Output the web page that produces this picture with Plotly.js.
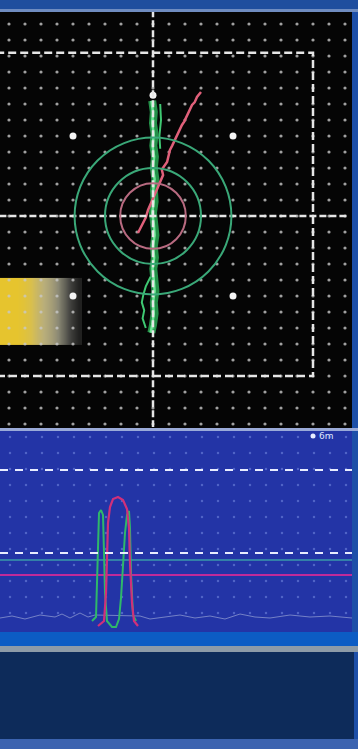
<!DOCTYPE html>
<html><head><meta charset="utf-8">
<script src="https://cdn.plot.ly/plotly-3.0.1.min.js"></script>
<style>html,body{margin:0;padding:0;background:#1d4fa8;}#chart{width:358px;height:749px;}</style>
</head><body><div id="chart"></div>
<script>
// ---------- top (impedance plane) data, in screen grid units ----------
const circleRadii = [2.05, 3.0, 4.9];
const circleColors = ['#b86a80', '#3aa878', '#3aa878'];
const bigDotX = [-5, 5, -5, 5, 0];
const bigDotY = [5, 5, -5, -5, 7.55];
const greenSigX = [-0.05, 0.05, 0.0, 0.1, 0.02, 0.12, 0.05, 0.15, 0.06, 0.1, 0.0, 0.1, 0.15, 0.05, 0.12, 0.02, 0.1, 0.15, 0.05, 0.1, 0.0, -0.1];
const greenSigY = [7.2, 6.5, 5.8, 5.1, 4.4, 3.7, 3.0, 2.3, 1.6, 0.9, 0.2, -0.5, -1.2, -1.9, -2.6, -3.3, -4.0, -4.7, -5.4, -6.1, -6.8, -7.3];
const greenBranchX = [0.45, 0.5, 0.4, 0.45, null, -0.15, -0.45, -0.6, -0.7, -0.55, -0.65, -0.45];
const greenBranchY = [7.0, 6.0, 5.0, 4.2, null, -3.8, -4.4, -4.9, -5.4, -5.9, -6.4, -7.0];
const pinkSigX = [-0.94, -0.75, -0.63, -0.45, -0.31, -0.06, 0.1, 0.31, 0.63, 0.55, 0.88, 1.06, 1.2, 1.44, 1.81, 1.95, 2.13, 2.44, 2.6, 2.75, 3.0];
const pinkSigY = [-1.06, -0.7, -0.38, -0.1, 0.38, 1.0, 1.3, 1.81, 2.56, 2.9, 3.38, 4.13, 4.4, 4.94, 5.69, 5.9, 6.31, 6.94, 7.1, 7.44, 7.75];
const gradientZ = [[1, 1, 1, 0.97, 0.92, 0.82, 0.74, 0.66, 0.55, 0.4, 0.22, 0.08],
                   [1, 1, 1, 0.97, 0.92, 0.82, 0.74, 0.66, 0.55, 0.4, 0.22, 0.08]];

// ---------- bottom (strip chart) data ----------
const baseX = [0, 12, 25, 40, 55, 62, 70, 80, 88, 95, 140, 150, 165, 180, 195, 210, 225, 240, 255, 270, 290, 310, 330, 352];
const baseY = [5, 7, 4, 8, 6, 9, 5, 10, 6, 8, 7, 4, 6, 8, 5, 7, 4, 9, 6, 5, 8, 6, 7, 5];
const magPulseX = [98, 104, 106, 107, 108, 110, 113, 118, 123, 127, 129, 130, 132, 134, 138];
const magPulseY = [-3, 2, 30, 70, 100, 116, 124, 126, 123, 114, 95, 60, 20, 2, -3];
const greenPulseX = [92, 96, 97, 98, 99, 101, 103, 104, 105, 107, 112, 116, 119, 121, 123, 125, 127, 129, 130, 131, 133, 136];
const greenPulseY = [2, 6, 40, 90, 110, 113, 108, 70, 30, 2, -4, -4, 4, 25, 60, 90, 108, 112, 95, 50, 8, 2];
const tealLineX = [0, 352];
const tealLineY = [63, 63];
const magLineX = [0, 352];
const magLineY = [48, 48];
const dashedLevels = [153, 70];
const rangeLabel = '6m';

// ---------- pixel geometry helpers ----------
const W = 358, H = 749;
const px = v => v / W, py = v => 1 - v / H;
const U = 16, CX = 153, CY = 216;

const dotX = [], dotY = [];
for (let i = -9; i <= 12; i++) for (let j = -13; j <= 12; j++) { dotX.push(i); dotY.push(j); }
const bdotX = [], bdotY = [];
for (let i = 0; i < 22; i++) for (let j = 0; j < 12; j++) { bdotX.push(10 + 16 * i); bdotY.push(10 + 16 * j); }

const traces = [
  {type:'heatmap', z: gradientZ, x0: -9.35, dx: 0.427, y0: -7.01, dy: 2.093, zmin: 0, zmax: 1, zsmooth: 'best', showscale: false,
   colorscale: [[0,'#121212'],[0.3,'#4a4a46'],[0.55,'#8a8874'],[0.75,'#b9ae7a'],[0.9,'#d6be52'],[1,'#e6c42e']], xaxis:'x', yaxis:'y', hoverinfo:'skip'},
  {type:'scatter', mode:'markers', x: dotX, y: dotY, marker:{size:3.2, color:'rgba(200,200,200,0.8)'}, xaxis:'x', yaxis:'y', hoverinfo:'skip'},
  {type:'scatter', mode:'markers', x: bigDotX, y: bigDotY, marker:{size:7, color:'#f4f4f4'}, xaxis:'x', yaxis:'y', hoverinfo:'skip'},
  {type:'scatter', mode:'lines', x: greenSigX, y: greenSigY, line:{color:'#2fc060', width:8}, opacity:0.75, xaxis:'x', yaxis:'y', hoverinfo:'skip'},
  {type:'scatter', mode:'lines', x: greenSigX.map(v => v - 0.05), y: greenSigY, line:{color:'#6ee896', width:2.5}, xaxis:'x', yaxis:'y', hoverinfo:'skip'},
  {type:'scatter', mode:'lines', x: greenBranchX, y: greenBranchY, line:{color:'#3fc872', width:2}, connectgaps:false, xaxis:'x', yaxis:'y', hoverinfo:'skip'},
  {type:'scatter', mode:'lines', x: pinkSigX, y: pinkSigY, line:{color:'#e0607a', width:2.5}, xaxis:'x', yaxis:'y', hoverinfo:'skip'},
  // bottom
  {type:'scatter', mode:'markers', x: bdotX, y: bdotY, marker:{size:2.5, color:'rgba(120,140,225,0.55)'}, xaxis:'x2', yaxis:'y2', hoverinfo:'skip'},
  {type:'scatter', mode:'lines', x: tealLineX, y: tealLineY, line:{color:'#3a9aa8', width:1.5}, xaxis:'x2', yaxis:'y2', hoverinfo:'skip'},
  {type:'scatter', mode:'lines', x: magLineX, y: magLineY, line:{color:'#c02a9a', width:2}, xaxis:'x2', yaxis:'y2', hoverinfo:'skip'},
  {type:'scatter', mode:'lines', x: baseX, y: baseY, line:{color:'rgba(170,180,220,0.6)', width:1}, xaxis:'x2', yaxis:'y2', hoverinfo:'skip'},
  {type:'scatter', mode:'lines', x: greenPulseX, y: greenPulseY, line:{color:'#2fb86a', width:2}, xaxis:'x2', yaxis:'y2', hoverinfo:'skip'},
  {type:'scatter', mode:'lines', x: magPulseX, y: magPulseY, line:{color:'#d0307a', width:2.2}, xaxis:'x2', yaxis:'y2', hoverinfo:'skip'},
  {type:'scatter', mode:'markers', x: [313], y: [187], marker:{size:5, color:'#e8eeff'}, xaxis:'x2', yaxis:'y2', hoverinfo:'skip'}
];

const shapes = [
  {type:'rect', xref:'paper', yref:'paper', x0:0, x1:1, y0:py(11), y1:1, fillcolor:'#1f4e9e', line:{width:0}, layer:'below'},
  {type:'rect', xref:'paper', yref:'paper', x0:0, x1:1, y0:py(12), y1:py(9), fillcolor:'#6f8cc0', line:{width:0}, layer:'below'},
  {type:'rect', xref:'paper', yref:'paper', x0:0, x1:px(352), y0:py(428), y1:py(12), fillcolor:'#050505', line:{width:0}, layer:'below'},
  {type:'rect', xref:'paper', yref:'paper', x0:0, x1:1, y0:py(431), y1:py(428), fillcolor:'#9aaad8', line:{width:0}, layer:'below'},
  {type:'rect', xref:'paper', yref:'paper', x0:0, x1:px(352), y0:py(632), y1:py(431), fillcolor:'#2334a6', line:{width:0}, layer:'below'},
  {type:'rect', xref:'paper', yref:'paper', x0:0, x1:1, y0:py(646), y1:py(632), fillcolor:'#0c5cc4', line:{width:0}, layer:'below'},
  {type:'rect', xref:'paper', yref:'paper', x0:0, x1:1, y0:py(652), y1:py(646), fillcolor:'#8d9ba8', line:{width:0}, layer:'below'},
  {type:'rect', xref:'paper', yref:'paper', x0:0, x1:px(354), y0:py(739), y1:py(652), fillcolor:'#0d2b5a', line:{width:0}, layer:'below'},
  {type:'rect', xref:'paper', yref:'paper', x0:0, x1:1, y0:0, y1:py(739), fillcolor:'#3b63b0', line:{width:0}, layer:'below'},
  // crosshair + reference box
  {type:'line', xref:'x', yref:'y', x0:0, x1:0, y0:-13.2, y1:12.8, line:{color:'#e6e6e6', width:2.5, dash:'7px,3px'}},
  {type:'line', xref:'x', yref:'y', x0:-9.6, x1:12.2, y0:0, y1:0, line:{color:'#e6e6e6', width:2.5, dash:'7px,3px'}},
  {type:'rect', xref:'x', yref:'y', x0:-10.5, x1:10, y0:-10, y1:10.2, line:{color:'#e6e6e6', width:2.5, dash:'8px,4px'}, fillcolor:'rgba(0,0,0,0)'}
];
circleRadii.forEach((r, k) => shapes.push({type:'circle', xref:'x', yref:'y', x0:-r, x1:r, y0:-r, y1:r, line:{color:circleColors[k], width:2}}));
dashedLevels.forEach(v => shapes.push({type:'line', xref:'x2', yref:'y2', x0:0, x1:352, y0:v, y1:v, line:{color:'#e8ecff', width:2, dash:'8px,7px'}}));

const hidden = {showgrid:false, zeroline:false, showticklabels:false, ticks:'', showline:false, fixedrange:true};
const layout = {
  width: W, height: H, margin:{l:0, r:0, t:0, b:0},
  paper_bgcolor:'#1d4fa8', plot_bgcolor:'rgba(0,0,0,0)', showlegend:false,
  xaxis: Object.assign({domain:[0, px(352)], range:[-CX / U, (352 - CX) / U]}, hidden),
  yaxis: Object.assign({domain:[py(427), py(12)], range:[(CY - 427) / U, (CY - 12) / U]}, hidden),
  xaxis2: Object.assign({domain:[0, px(352)], range:[0, 352], anchor:'y2'}, hidden),
  yaxis2: Object.assign({domain:[py(632), py(431)], range:[-9, 192], anchor:'x2'}, hidden),
  shapes: shapes,
  annotations: [{xref:'x2', yref:'y2', x:317, y:187, text: rangeLabel, showarrow:false, xanchor:'left', yanchor:'middle',
    font:{family:'DejaVu Sans', size:9, color:'#dfe6ff'}}]
};
Plotly.newPlot('chart', traces, layout, {staticPlot:true, displayModeBar:false});
</script></body></html>
